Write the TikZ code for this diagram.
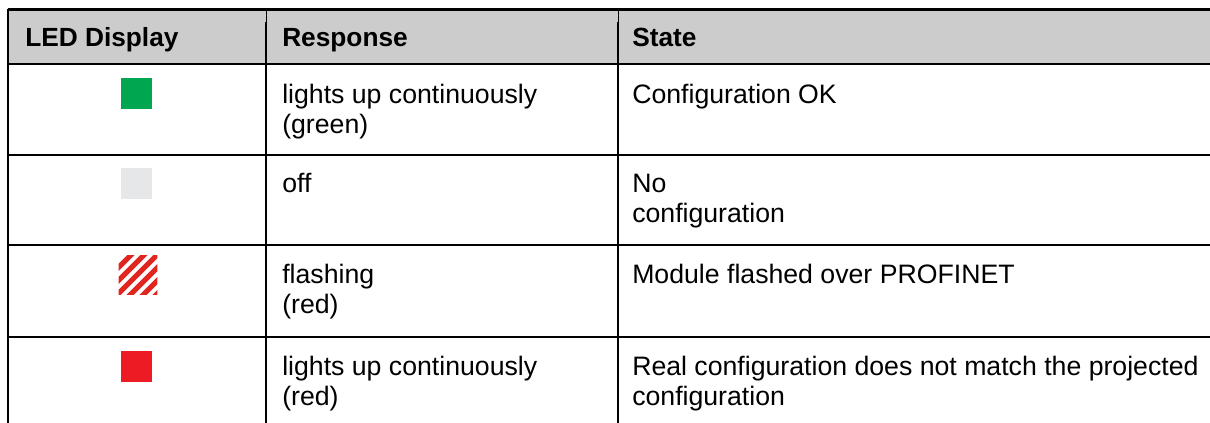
\documentclass[tikz,border=0pt]{standalone}
\usepackage{fontspec}
\setmainfont{Liberation Sans}
\usepackage{tikz}
\usetikzlibrary{positioning}
\definecolor{ledGreen}{HTML}{00A650}
\definecolor{ledRed}{HTML}{ED1C24}
\definecolor{ledStripe}{HTML}{E0261F}
\definecolor{ledOff}{HTML}{E6E7E8}
\definecolor{tableHead}{HTML}{CCCCCC}
\tikzset{
  headcell/.style={
    anchor=base west,
    inner sep=0pt,
    font=\fontsize{19.7}{22.5}\selectfont\bfseries
  },
  % base anchor sits on the last line
  bodycell/.style={
    anchor=base west,
    inner sep=0pt,
    align=left,
    font=\fontsize{20}{22.5}\selectfont
  },
  ledlamp/.style={
    rectangle,
    inner sep=0pt,
    minimum size=23.25pt
  },
  hrule/.style={
    line width=2.2pt,
    draw=black
  },
  vrule/.style={
    line width=1.6pt,
    draw=black
  },
  vthin/.style={
    line width=0.75pt,
    draw=black
  },
  stripe/.style={
    line width=3.9pt,
    draw=ledStripe
  }
}

\begin{document}
\begin{tikzpicture}[x=0.75pt,y=-0.75pt]
  \useasboundingbox (0,0) rectangle (1210,423);
  % header band
  \fill[tableHead] (8,9.5) rectangle (1210,64);
  % rules
  \foreach \yy in {9.5,64,155,245,337}
    \draw[hrule] (8,\yy) -- (1210,\yy);
  \draw[vrule] (8,9.5) -- (8,423);
  \foreach \xx in {266,618} {
    \draw[vthin] (\xx,9.5) -- (\xx,22);
    \draw[vrule] (\xx,22) -- (\xx,423);
  }

  % header row
  \node[headcell] (headLed) at (25,47) {LED Display};
  \node[headcell] (headResp) at (282,47) {Response};
  \node[headcell] (headState) at (632,47) {State};

  % row 1
  \node[ledlamp,fill=ledGreen] (ledOk) at (136.5,93.5) {};
  \node[bodycell] (respOk) at (282,134) {lights up continuously\\(green)};
  \node[bodycell] (stateOk) at (632,104) {Configuration OK};

  % row 2
  \node[ledlamp,fill=ledOff] (ledNone) at (136.5,183.5) {};
  \node[bodycell] (respNone) at (282,193) {off};
  \node[bodycell] (stateNone) at (632,223) {No\\configuration};

  % row 3
  \node[ledlamp,minimum size=28.5pt] (ledFlash) at (138,275) {};
  \begin{scope}
    \clip (ledFlash.north west) rectangle (ledFlash.south east);
    \foreach \s in {-3,...,3}
      \draw[stripe] ({121+13*\s},304) -- ++(58,-58);
  \end{scope}
  \node[bodycell] (respFlash) at (282,314) {flashing\\(red)};
  \node[bodycell] (stateFlash) at (632,284) {Module flashed over PROFINET};

  % row 4
  \node[ledlamp,fill=ledRed] (ledFault) at (136.5,367) {};
  \node[bodycell] (respFault) at (282,406) {lights up continuously\\(red)};
  \node[bodycell] (stateFault) at (632,406) {Real configuration does not match the projected\\configuration};
\end{tikzpicture}
\end{document}
